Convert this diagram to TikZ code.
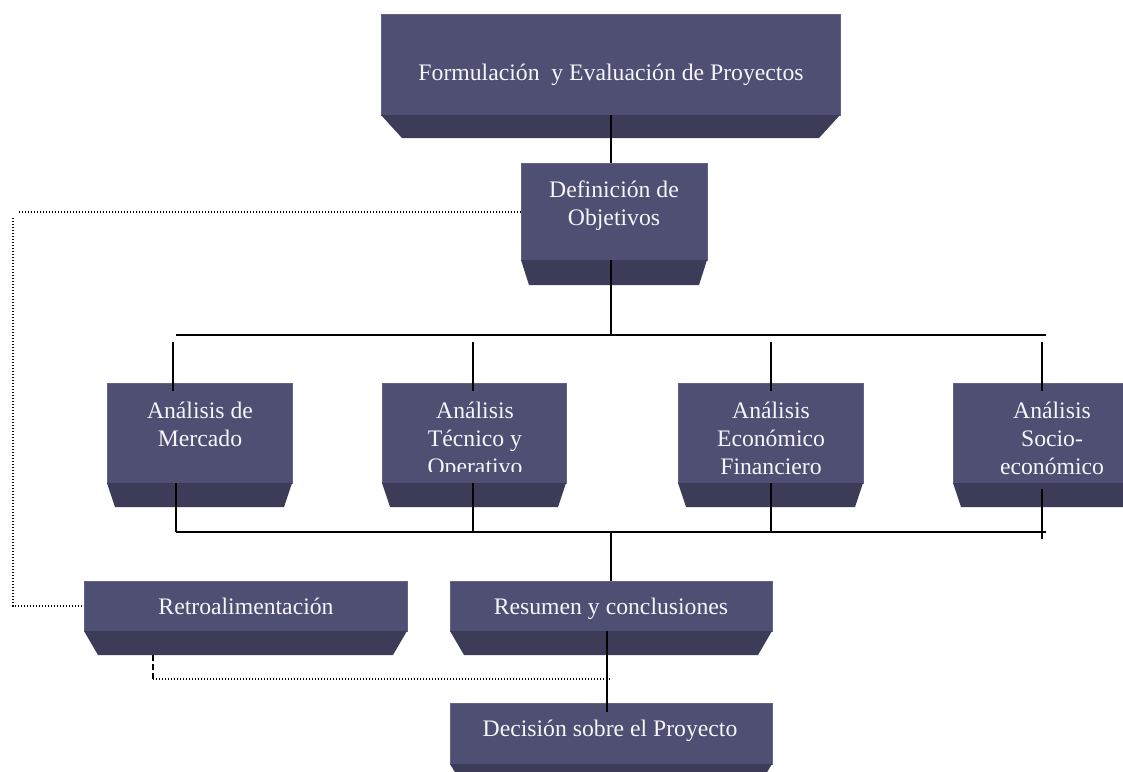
\documentclass[tikz,border=0pt]{standalone}
\usepackage{fontspec}
\setmainfont{Liberation Serif}
\definecolor{faceC}{RGB}{79,79,115}
\definecolor{botC}{RGB}{60,60,89}
\definecolor{edgeC}{RGB}{98,98,138}
\definecolor{txtC}{RGB}{245,245,250}
\tikzset{
  face/.style={fill=faceC, draw=edgeC, line width=0.6pt, inner sep=0pt, outer sep=0pt, anchor=north west},
  bot/.style={fill=botC},
  lbl/.style={text=txtC, font=\fontsize{23.7}{28}\selectfont, anchor=base, inner sep=0pt},
  wire/.style={line width=2pt, black},
  dots/.style={line width=1.6pt, black, dash pattern=on 1.4pt off 1.6pt},
  dashes/.style={line width=1.6pt, black, dash pattern=on 6pt off 3pt},
}
% name, x1, y1, x2, y2 (face bottom), y3 (bevel bottom), indent
\newcommand\bevbox[7]{%
  \node[face, minimum width={#4pt-#2pt}, minimum height={#5pt-#3pt}] (#1) at (#2,#3) {};
  \fill[bot] (#1.south west) -- (#1.south east) -- (#4-#7,#6) -- (#2+#7,#6) -- cycle;
}
\newcommand\mlt[1]{\parbox[t]{240pt}{\centering #1}}
\begin{document}
\begin{tikzpicture}[x=1pt,y=-1pt]
\clip (0,0) rectangle (1123,771);
\fill[white] (0,0) rectangle (1123,771);

% boxes
\bevbox{top}{381}{14}{840}{115}{138}{21}
\bevbox{def}{521}{163}{707}{260}{285}{8}
\bevbox{mer}{107}{383}{292}{483}{507}{8}
\bevbox{tec}{382}{383}{566}{483}{507}{8}
\bevbox{eco}{678}{383}{863}{483}{507}{8}
\bevbox{soc}{953}{383}{1140}{483}{507}{8}
\bevbox{ret}{84}{581}{407}{631}{655}{14}
\bevbox{res}{450}{581}{772}{631}{655}{14}
\bevbox{dec}{450}{703}{772}{764}{787}{14}

% texts
\node[lbl] (topT) at (611,80) {Formulación\ \ y Evaluación de Proyectos};
\node[lbl] (defT) at (614,197) {\mlt{Definición de\\Objetivos}};
\node[lbl] (merT) at (200,418) {\mlt{Análisis de\\Mercado}};
\begin{scope}
  \clip (382,383) rectangle (566,471);
  \node[lbl] (tecT) at (475,418) {\mlt{Análisis\\Técnico y\\Operativo}};
\end{scope}
\node[lbl] (ecoT) at (771,418) {\mlt{Análisis\\Económico\\Financiero}};
\node[lbl] (socT) at (1052,418) {\mlt{Análisis\\Socio-\\económico}};
\node[lbl] (retT) at (246,614) {Retroalimentación};
\node[lbl] (resT) at (611,614) {Resumen y conclusiones};
\node[lbl] (decT) at (610,736) {Decisión sobre el Proyecto};

% coordinates
\coordinate (sx) at (611,0);
\coordinate (busTL) at (176,335);
\coordinate (busTR) at (1046,335);
\coordinate (busBL) at (176,532);
\coordinate (busBR) at (1046,532);
\coordinate (s1) at (173,342);
\coordinate (s2) at (473,342);
\coordinate (s3) at (771,342);
\coordinate (s4) at (1042,342);
\coordinate (lc) at (13,212);
\coordinate (rb) at (153,679);

% solid connectors
\draw[wire] (top.south -| sx) -- (def.north -| sx);
\draw[wire] (def.south -| sx) -- (busTL -| sx);
\draw[wire] (busTL) -- (busTR);
\draw[wire] (s1) -- ([yshift=-8pt]mer.north -| s1);
\draw[wire] (s2) -- ([yshift=-8pt]tec.north -| s2);
\draw[wire] (s3) -- ([yshift=-8pt]eco.north -| s3);
\draw[wire] (s4) -- ([yshift=-8pt]soc.north -| s4);
\draw[wire] (mer.south -| busBL) -- (busBL);
\draw[wire] (tec.south -| s2) -- (busBL -| s2);
\draw[wire] (eco.south -| s3) -- (busBL -| s3);
\draw[wire] ([yshift=-6pt]soc.south -| s4) -- ([yshift=-7pt]busBL -| s4);
\draw[wire] (busBL) -- (busBR);
\draw[wire] (busBL -| sx) -- (res.north -| sx);
\draw[wire] ([xshift=-4pt]res.south -| sx) -- ([xshift=-4pt,yshift=-9pt]dec.north -| sx);

% feedback (dotted)
\draw[dots] ([xshift=6pt]lc) -- (def.west |- lc);
\draw[dots] ([yshift=-6pt]lc) -- (lc |- ret.west) -- (ret.west);
\draw[dashes] (rb |- ret.south) ++(0,24) -- (rb);
\draw[dots] (rb) -- (rb -| sx);
\end{tikzpicture}
\end{document}
